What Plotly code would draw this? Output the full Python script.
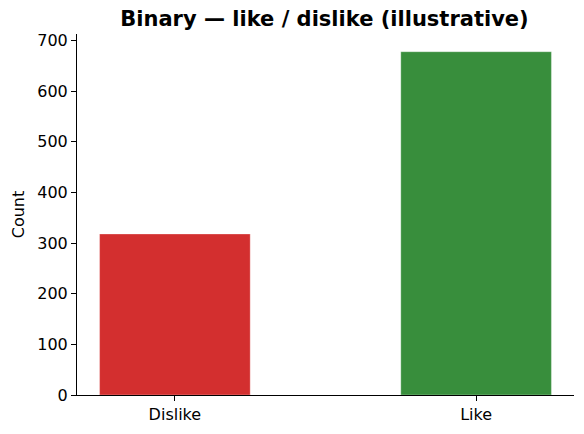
import plotly.graph_objects as go

categories = ["Dislike", "Like"]
counts = [318, 678]
bar_colors = ["#d32f2f", "#388e3c"]
y_ticks = [0, 100, 200, 300, 400, 500, 600, 700]

# the page puts the figure 8px in from the top-left corner, so size it to fit
FIG_W, FIG_H = 576, 426


def main():
    fig = go.Figure(go.Bar(
        x=[0, 1],
        y=counts,
        width=0.5,
        marker={"color": bar_colors, "line": {"color": "rgba(255,255,255,0.3)", "width": 1}},
        hovertext=categories,
    ))

    fig.update_layout(
        width=FIG_W,
        height=FIG_H,
        margin={"l": 67, "r": 10, "t": 26, "b": 38},
        paper_bgcolor="white",
        plot_bgcolor="white",
        showlegend=False,
        font={"family": "DejaVu Sans", "size": 16, "color": "black"},
        title={
            "text": "<b>Binary — like / dislike (illustrative)</b>",
            "x": (67 + 566) / 2 / FIG_W,
            "xanchor": "center",
            "y": 1 - 11 / FIG_H,
            "yanchor": "middle",
            "font": {"size": 21},
        },
    )
    fig.update_xaxes(
        range=[-0.325, 1.325],
        tickvals=[0, 1],
        ticktext=categories,
        showline=True,
        linecolor="black",
        linewidth=1,
        ticks="outside",
        ticklen=5,
        tickcolor="black",
        showgrid=False,
        zeroline=False,
    )
    fig.update_yaxes(
        range=[0, 713],
        tickvals=y_ticks,
        title={"text": "Count", "standoff": 8, "font": {"size": 16}},
        showline=True,
        linecolor="black",
        linewidth=1,
        ticks="outside",
        ticklen=5,
        tickcolor="black",
        showgrid=False,
        zeroline=False,
    )
    fig.write_html("out.html")


if __name__ == "__main__":
    main()
